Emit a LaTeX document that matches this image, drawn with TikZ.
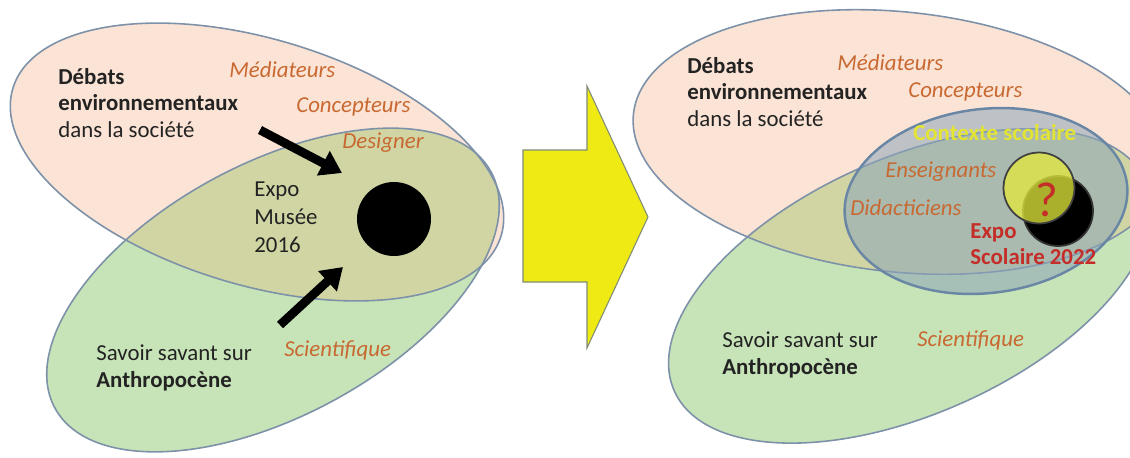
\documentclass[tikz,border=0pt]{standalone}
\usepackage{fontspec}
\setmainfont{Carlito}
\usetikzlibrary{arrows.meta}
\definecolor{peach}{RGB}{251,228,213}
\definecolor{leaf}{RGB}{199,227,184}
\definecolor{mixzone}{RGB}{208,213,163}
\definecolor{rim}{RGB}{125,145,168}
\definecolor{school}{RGB}{140,165,185}
\definecolor{schoolrim}{RGB}{105,135,165}
\definecolor{roletext}{RGB}{200,105,50}
\definecolor{inktext}{RGB}{35,35,35}
\definecolor{redtext}{RGB}{196,45,40}
\definecolor{yellowtext}{RGB}{228,228,50}
\definecolor{bigyellow}{RGB}{240,234,20}
\definecolor{disc}{RGB}{228,234,60}
\tikzstyle{zone} = [draw=rim, line width=0.9pt]
\tikzstyle{topic} = [font=\fontsize{13}{15}\selectfont, text=inktext, inner sep=0pt, anchor=west, align=left]
\tikzstyle{role} = [topic, font=\fontsize{13}{15}\selectfont\itshape, text=roletext]
\tikzstyle{expo} = [topic, font=\fontsize{13}{15}\selectfont\bfseries, text=redtext]
\tikzstyle{disk} = [circle, fill=black, inner sep=0pt]
\tikzstyle{push} = [line width=5pt, -{Triangle[length=12pt,width=15pt]}]

\begin{document}
\begin{tikzpicture}[x=0.02cm, y=-0.02cm]
  \useasboundingbox (0,0) rectangle (1130,457);
  % Left: the 2016 museum exhibition
  \fill[peach, rotate around={-16.8:(257,162)}] (257,162) ellipse (255 and 123);
  \fill[leaf, rotate around={28.4:(273,290)}] (273,290) ellipse (248 and 126);
  \begin{scope}
    \clip[rotate around={-16.8:(257,162)}] (257,162) ellipse (255 and 123);
    \fill[mixzone, rotate around={28.4:(273,290)}] (273,290) ellipse (248 and 126);
  \end{scope}
  \draw[zone, rotate around={-16.8:(257,162)}] (257,162) ellipse (255 and 123);
  \draw[zone, rotate around={28.4:(273,290)}] (273,290) ellipse (248 and 126);
  \node[disk, minimum size=1.48cm] (musee) at (394,219) {};
  \node[topic] (debats) at (58,103)
    {\textbf{Débats}\\\textbf{environnementaux}\\dans la société};
  \node[topic, font=\fontsize{13}{16}\selectfont] (expo) at (254,217) {Expo\\Musée\\2016};
  \node[topic] (savoir) at (96,368) {Savoir savant sur\\\textbf{Anthropocène}};
  \foreach \pos/\name/\txt in {{(229,70)/med/Médiateurs},{(296,107)/conc/Concepteurs},
                               {(342,143)/des/Designer},{(284,350)/sci/Scientifique}}
    \node[role] (\name) at \pos {\txt};
  % Arrows towards the exhibition
  \coordinate (in1) at (260,130);
  \coordinate (out1) at (342,173);
  \coordinate (in2) at (280,325);
  \coordinate (out2) at (343,267);
  \draw[push] (in1) -- (out1);
  \draw[push] (in2) -- (out2);

  % Middle: big yellow arrow
  \fill[bigyellow, draw=rim!70!olive, line width=0.6pt]
    (523,150) -- (587,150) -- (587,86) -- (648,217) -- (587,348) -- (587,282) -- (523,282) -- cycle;

  % Right: the 2022 school exhibition
  \fill[peach, rotate around={-6:(900,142)}] (900,142) ellipse (268 and 130);
  \fill[leaf, rotate around={24:(910,286)}] (910,286) ellipse (258 and 128);
  \begin{scope}
    \clip[rotate around={-6:(900,142)}] (900,142) ellipse (268 and 130);
    \fill[mixzone, rotate around={24:(910,286)}] (910,286) ellipse (258 and 128);
  \end{scope}
  \draw[zone, rotate around={-6:(900,142)}] (900,142) ellipse (268 and 130);
  \draw[zone, rotate around={24:(910,286)}] (910,286) ellipse (258 and 128);
  \draw[school, fill opacity=0.55, fill=school, draw=schoolrim, line width=1.4pt,
        rotate around={7:(986,201)}] (986,201) ellipse (142 and 92);
  \node[disk, draw=black!80, line width=1pt, minimum size=1.40cm] (ecole) at (1058,211) {};
  \node[circle, fill=disc, fill opacity=0.75, draw=black!75, line width=1pt,
        inner sep=0pt, minimum size=1.42cm] (question) at (1039,188) {};
  \node[text=redtext, font=\fontsize{28}{28}\selectfont, inner sep=0pt] (mark) at (1047,200) {?};
  \node[topic] (debats2) at (687,92)
    {\textbf{Débats}\\\textbf{environnementaux}\\dans la société};
  \node[topic] (savoir2) at (722,355) {Savoir savant sur\\\textbf{Anthropocène}};
  \node[topic, font=\fontsize{13}{15}\selectfont\bfseries, text=yellowtext] (ctx) at (913,133) {Contexte scolaire};
  \node[expo] (expo2) at (970,244) {Expo\\Scolaire 2022};
  \foreach \pos/\name/\txt in {{(837,63)/med2/Médiateurs},{(908,92)/conc2/Concepteurs},
                               {(885,172)/ens/Enseignants},{(850,208)/did/Didacticiens},
                               {(917,340)/sci2/Scientifique}}
    \node[role] (\name) at \pos {\txt};
\end{tikzpicture}
\end{document}
